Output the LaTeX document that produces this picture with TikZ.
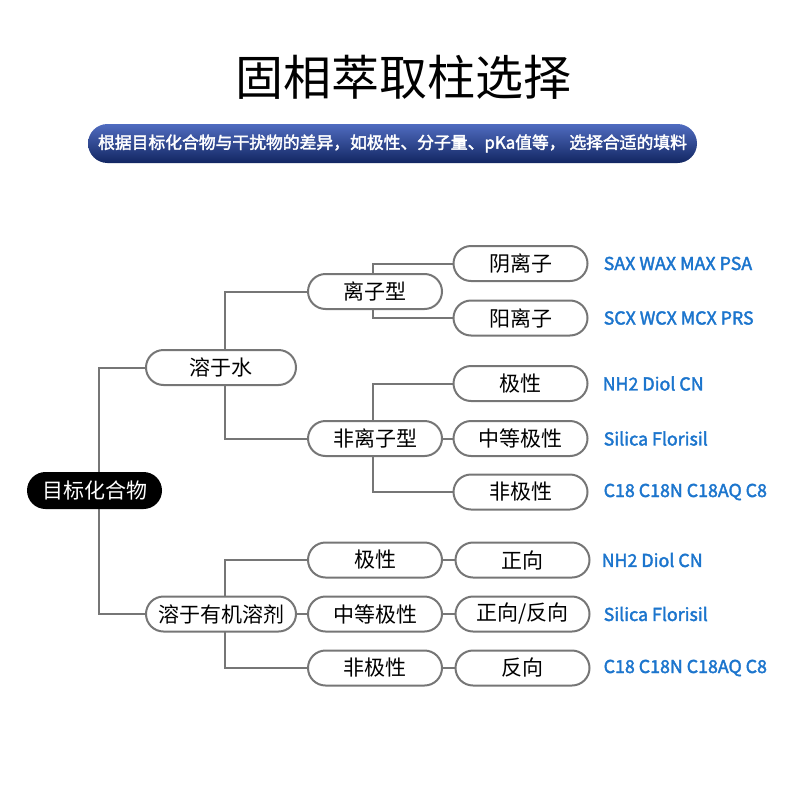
\documentclass[tikz,border=0pt]{standalone}
\usepackage{fontspec}
\setmainfont{Noto Sans CJK SC}
\newfontfamily\medfont{Noto Sans CJK SC}[RawFeature={embolden=2.2}]
\usetikzlibrary{positioning,backgrounds}

\definecolor{linegray}{RGB}{118,118,118}
\definecolor{labelblue}{RGB}{28,117,205}
\definecolor{bannertop}{RGB}{80,108,192}
\definecolor{bannerbot}{RGB}{18,38,98}

\begin{document}
\begin{tikzpicture}[
  x=1pt, y=-1pt,
  % capsule boxes of the tree
  box/.style={
    draw=linegray, line width=2pt, fill=white,
    rounded corners=17.5pt, minimum height=35pt, inner sep=0pt,
    font=\fontsize{21}{24}\selectfont
  },
  widebox/.style={box, minimum width=150pt},
  midbox/.style={box, minimum width=134pt},
  rootbox/.style={
    fill=black, text=white, rounded corners=18.5pt,
    minimum width=135pt, minimum height=37pt, inner sep=0pt,
    font=\fontsize{21}{24}\selectfont
  },
  packing/.style={
    anchor=west, inner sep=0pt, text=labelblue,
    font=\fontsize{17.8}{20}\selectfont\medfont
  },
  link/.style={draw=linegray, line width=2pt},
]

\useasboundingbox (0,0) rectangle (800,800);

% --- heading and banner ---
\node[font=\fontsize{48}{52}\selectfont] (title) at (403.5,77) {固相萃取柱选择};
\node[top color=bannertop, bottom color=bannerbot, text=white,
      rounded corners=19.5pt, minimum width=609pt, minimum height=39pt,
      inner sep=0pt, font=\fontsize{16.8}{19}\selectfont\medfont]
  (banner) at (392.5,143.5)
  {根据目标化合物与干扰物的差异，如极性、分子量、pKa值等，\ 选择合适的填料};

% --- tree ---
\node[rootbox] (target) at (94.5,490.5) {目标化合物};

\node[widebox] (water)   at (221,367.5) {溶于水};
\node[widebox] (organic) at (221,614)   {溶于有机溶剂};

\node[midbox] (ionic)    at (375,291.5) {离子型};
\node[midbox] (nonionic) at (375,438.5) {非离子型};

\node[midbox] (anion)   at (520.5,263.5) {阴离子};
\node[midbox] (cation)  at (520.5,318)   {阳离子};
\node[midbox] (polar)   at (520.5,383.5) {极性};
\node[midbox] (medium)  at (520.5,438.5) {中等极性};
\node[midbox] (apolar)  at (520.5,492)   {非极性};

\node[midbox] (polarB)  at (375,560) {极性};
\node[midbox] (mediumB) at (375,614) {中等极性};
\node[midbox] (apolarB) at (375,668) {非极性};

\node[midbox] (normal)  at (522.5,560) {正向};
\node[midbox] (both)    at (522.5,614) {正向/反向};
\node[midbox] (reverse) at (522.5,668) {反向};

% --- packing materials ---
\node[packing, right=15pt of anion]   (sax)  {SAX WAX MAX PSA};
\node[packing, right=15pt of cation]  (scx)  {SCX WCX MCX PRS};
\node[packing, right=14pt of polar]   (nh)   {NH2 Diol CN};
\node[packing, right=15pt of medium]  (sil)  {Silica Florisil};
\node[packing, right=15pt of apolar]  (cc)   {C18 C18N C18AQ C8};
\node[packing, right=11pt of normal]  (nhB)  {NH2 Diol CN};
\node[packing, right=13pt of both]    (silB) {Silica Florisil};
\node[packing, right=13pt of reverse] (ccB)  {C18 C18N C18AQ C8};

% --- connectors, behind the boxes ---
\begin{scope}[on background layer]
  \draw[link] ([xshift=4.5pt]target.center) |- (water.west);
  \draw[link] ([xshift=4.5pt]target.center) |- (organic.west);

  \draw[link] ([xshift=4pt]water.center) |- (ionic.west);
  \draw[link] ([xshift=4pt]water.center) |- (nonionic.west);

  \draw[link] ([xshift=-2pt]ionic.center) |- (anion.west);
  \draw[link] ([xshift=-2pt]ionic.center) |- (cation.west);

  \draw[link] ([xshift=-2pt]nonionic.center) |- (polar.west);
  \draw[link] ([xshift=-2pt]nonionic.center) |- (apolar.west);
  \draw[link] (nonionic.east) -- (medium.west);

  \draw[link] ([xshift=4pt]organic.center) |- (polarB.west);
  \draw[link] ([xshift=4pt]organic.center) |- (apolarB.west);
  \draw[link] (organic.east) -- (mediumB.west);

  \draw[link] (polarB.east) -- (normal.west);
  \draw[link] (mediumB.east) -- (both.west);
  \draw[link] (apolarB.east) -- (reverse.west);
\end{scope}

\end{tikzpicture}
\end{document}
